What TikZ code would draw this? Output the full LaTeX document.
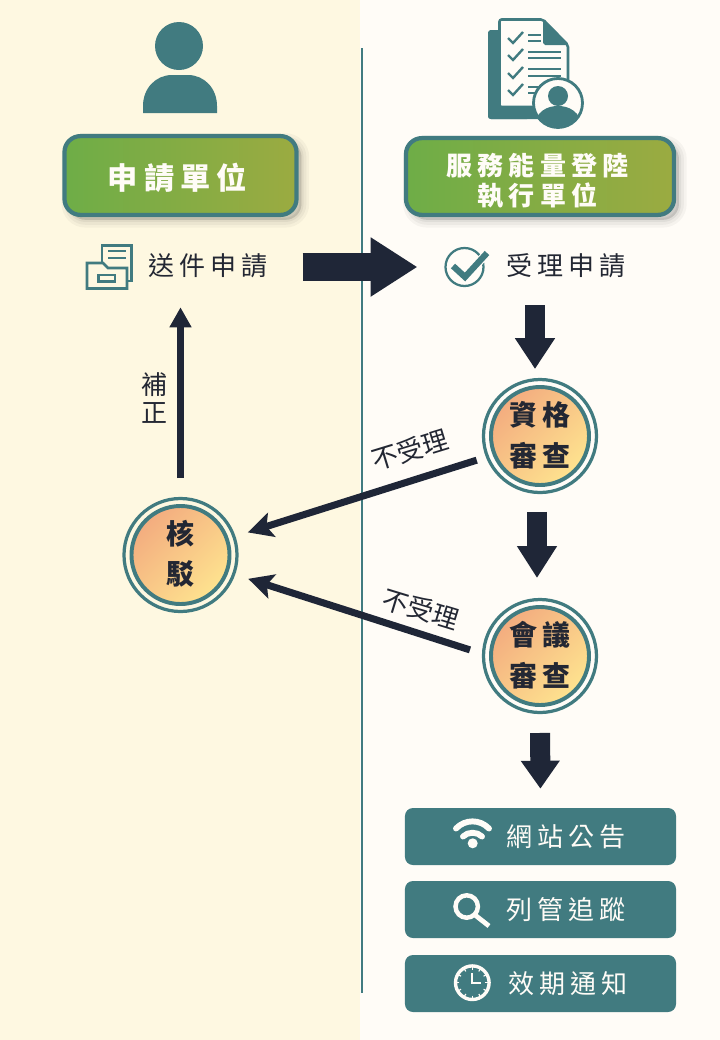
\documentclass[tikz,border=0pt]{standalone}
\usepackage{fontspec}
\setmainfont{Noto Sans CJK TC}
\newfontfamily\widecjk[LetterSpace=18.5]{Noto Sans CJK TC}
\newfontfamily\headcjk[LetterSpace=20]{Noto Sans CJK TC}
\usetikzlibrary{arrows.meta, calc, positioning, shadows}

\definecolor{tealmain}{HTML}{417B80}
\definecolor{navyarrow}{HTML}{1F2637}
\definecolor{inktext}{HTML}{232733}
\definecolor{creamleft}{HTML}{FEF8E1}
\definecolor{creamright}{HTML}{FFFCF7}
\definecolor{greenstart}{HTML}{6EAD47}
\definecolor{greenend}{HTML}{9BAB41}
\definecolor{orangestart}{HTML}{F3AC7F}
\definecolor{yellowend}{HTML}{FEE38F}

\tikzset{
  softshadow/.style={
    general shadow={fill=black, draw=black, fill opacity=.035, draw opacity=.035, line width=11pt, shadow xshift=3.5pt, shadow yshift=-3.5pt},
    general shadow={fill=black, draw=black, fill opacity=.04, draw opacity=.04, line width=7pt, shadow xshift=3.5pt, shadow yshift=-3.5pt},
    general shadow={fill=black, draw=black, fill opacity=.05, draw opacity=.05, line width=3pt, shadow xshift=3.5pt, shadow yshift=-3.5pt}},
  headbox/.style={draw=tealmain, line width=3pt, rounded corners=.4cm, softshadow,
    left color=greenstart, right color=greenend},
  headtext/.style={inner sep=0pt, text=creamright, align=center, font=\headcjk\bfseries\fontsize{18.5pt}{21.4pt}\selectfont},
  stagenode/.style={circle, draw=tealmain, line width=2.8pt, minimum size=2.45cm, inner sep=0pt,
    left color=orangestart, right color=yellowend, shading angle=45,
    text=inktext, align=center, font=\widecjk\bfseries\fontsize{19.9pt}{29.2pt}\selectfont,
    execute at end node={\rule[-3.5pt]{0pt}{3.5pt}}},
  steptext/.style={inner sep=0pt, minimum height=1cm, text=inktext, font=\widecjk\fontsize{18.5pt}{22pt}\selectfont},
  infobox/.style={fill=tealmain, rounded corners=.2cm, minimum width=6.775cm, minimum height=1.425cm},
  infotext/.style={inner sep=0pt, text=creamright, font=\widecjk\fontsize{18.5pt}{22pt}\selectfont},
  notetext/.style={inner sep=0pt, text=inktext, align=center, font=\fontsize{18.5pt}{19.4pt}\selectfont},
  blockarrow/.style n args={3}{draw=navyarrow, line width=#1, -{Triangle[length=#2, width=#3]}},
  thinarrow/.style={draw=navyarrow, line width=5pt, -{Stealth[length=.62cm, width=.62cm, inset=.13cm]}},
  iconline/.style={draw=tealmain, line width=1.8pt},
}

\begin{document}
\begin{tikzpicture}[x=0.025cm, y=-0.025cm]
    \useasboundingbox (0,0) rectangle (720,1040);

    % Two columns
    \fill[creamleft] (0,0) rectangle (360,1040);
    \fill[creamright] (360,0) rectangle (720,1040);
    \draw[tealmain, line width=2pt] (362,48) -- (362,993);

    % Person icon
    \fill[tealmain] (179,46) circle (24);
    \fill[tealmain] (143,113) -- (143,106) .. controls (143,88) and (156,75) .. (172,75) -- (188,75) .. controls (204,75) and (217,88) .. (217,106) -- (217,113) -- cycle;

    % Checklist icon
    \fill[tealmain, rounded corners=2pt] (488,30) rectangle (530,119);
    \fill[tealmain, rounded corners=2pt] (488,100) rectangle (560,119);
    \draw[iconline, fill=creamright, rounded corners=1.5pt] (499.5,19.5) -- (543,19.5) -- (568,45) -- (568,107) -- (499.5,107) -- cycle;
    \fill[tealmain] (543,20) -- (568,45) -- (545,45) -- (543,43) -- cycle;
    \foreach \y in {38,55,73,90} {
      \draw[tealmain, line width=1.7pt] (508,\y) -- (513,\y+5) -- (523,\y-6);
    }
    \foreach \y/\e in {35/541,41/541,52/561,58/561,69/561,76/561,87/540,93/540} {
      \draw[tealmain, line width=1.7pt] (528,\y) -- (\e,\y);
    }
    \draw[tealmain, fill=creamright, line width=2pt] (558,103) circle (24.5);
    \begin{scope}
      \clip (558,103) circle (23.5);
      \fill[tealmain] (558,96) circle (10);
      \fill[tealmain] (532,130) .. controls (536,110) and (548,106) .. (558,106) .. controls (568,106) and (580,110) .. (584,130) -- cycle;
    \end{scope}

    % Header boxes
    \node[headbox, minimum width=5.8cm, minimum height=1.97cm] (applicant) at (180.5,175.5) {};
    \node[headtext, font=\headcjk\bfseries\fontsize{21.5pt}{24pt}\selectfont] (applicanttext) at (177.5,177.5) {申請單位};
    \node[headbox, minimum width=6.7cm, minimum height=1.92cm] (provider) at (540,176.5) {};
    \node[headtext] (providertext) at (537.5,180.5) {服務能量登陸\\執行單位};

    % Step labels
    \node[steptext] (send) at (208,266) {送件申請};
    \node[steptext] (accept) at (566,266) {受理申請};

    % Folder icon
    \draw[iconline] (102,262) -- (102,245.5) -- (131.5,245.5) -- (131.5,281) -- (127,281);
    \draw[iconline] (108,251) -- (126,251);
    \draw[iconline] (108,258) -- (126,258);
    \draw[iconline, fill=creamleft] (87,288.5) -- (87,263) -- (103,263) -- (108,268) -- (127,268) -- (127,288.5) -- cycle;
    \draw[iconline] (98.5,275) rectangle (115,281.5);

    % Check icon
    \draw[tealmain, line width=1.6pt] (464.5,267) circle (19);
    \draw[creamright, line width=6pt] (465,277) -- (489,251);
    \draw[tealmain, line width=4.4pt] (453,266) -- (465,277) -- (487,253);

    % Stages
    \node[stagenode] (qualify) at (540,436) {資格\\審查};
    \node[stagenode] (meeting) at (540,656) {會議\\審查};
    \node[stagenode, font=\bfseries\fontsize{19.9pt}{28.4pt}\selectfont] (verify) at (180.5,555) {核\hspace{3.5pt}\\駁\hspace{3.5pt}};
    \foreach \c in {qualify, meeting, verify} {
      \draw[tealmain, line width=2.3pt] (\c) circle (56.5);
    }

    % Result boxes with their labels
    \foreach \c/\y/\t/\tx in {web/836.5/網站公告/566, track/909.5/列管追蹤/566, notice/983.5/效期通知/568} {
      \node[infobox] (\c) at (540.5,\y) {};
      \node[infotext] (\c text) at (\tx,\y) {\t};
    }

    % Wifi icon
    \fill[creamright] (472.7,843.3) circle (5);
    \draw[creamright, line width=4.2pt, line cap=round] (456,828.5) .. controls (465,819) and (480,819) .. (489,828.5);
    \draw[creamright, line width=4.2pt, line cap=round] (463,836.5) .. controls (468,831.5) and (477,831.5) .. (482,836.5);

    % Search icon
    \draw[creamright, line width=3.2pt] (466.7,906.5) circle (11.2);
    \draw[creamright, line width=3.4pt] (475,915) -- (489,926);

    % Clock icon
    \draw[creamright, line width=2.4pt] (472.3,982.7) circle (16.8);
    \foreach \a in {0,30,...,330} {
      \draw[creamright, line width=.8pt] ($(472.3,982.7)+(\a:13)$) -- ($(472.3,982.7)+(\a:16)$);
    }
    \draw[creamright, line width=1.6pt] (472.3,973) -- (472.3,982.7) -- (481,982.7);

    % Flow arrows
    \draw[blockarrow={.7cm}{1.17cm}{1.4cm}, shorten <=.875cm, shorten >=2.225cm] ([yshift=-.025cm]send.east) -- ([yshift=-.025cm]accept.west);
    \draw[blockarrow={.5cm}{.77cm}{.95cm}, shorten <=.475cm, shorten >=.4cm] ([xshift=-.125cm]accept.south -| qualify.north) -- ([xshift=-.125cm]qualify.north);
    \draw[blockarrow={.5cm}{.8cm}{.95cm}, shorten <=.625cm, shorten >=.675cm] ([xshift=-.075cm]qualify.south) -- ([xshift=-.075cm]meeting.north);
    \draw[blockarrow={.5cm}{.7cm}{.93cm}, shorten <=.65cm, shorten >=.475cm] (meeting.south) -- (web.north);
    \draw[blockarrow={.18cm}{.5cm}{.52cm}, shorten <=.65cm, shorten >=.525cm] (verify.north) -- (verify.north |- send.south);
    \draw[thinarrow, shorten <=.42cm, shorten >=.5cm] (qualify.202) -- (verify.19);
    \draw[thinarrow, shorten <=.5cm, shorten >=.52cm] (meeting.180) -- (verify.-20);

    % Arrow labels
    \node[notetext] (fix) at (154.5,398) {補\\正};
    \node[notetext, rotate=17] (reject1) at (410,450) {不受理};
    \node[notetext, rotate=-17] (reject2) at (421,609) {不受理};
\end{tikzpicture}
\end{document}
